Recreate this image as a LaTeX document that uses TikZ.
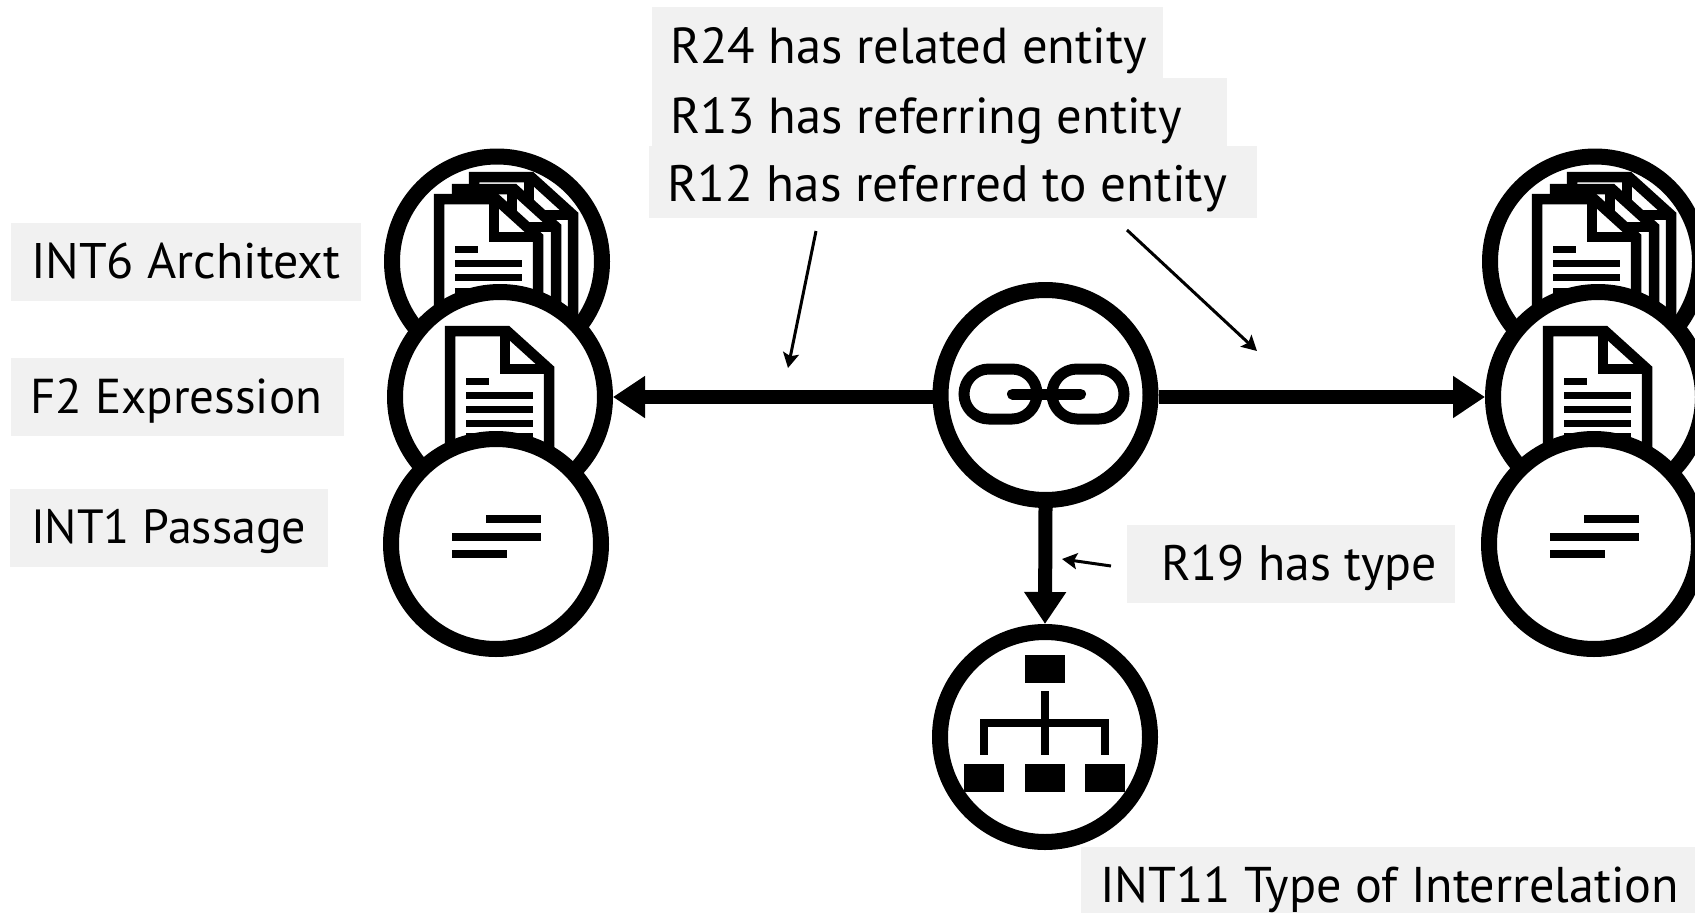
\documentclass[tikz,border=0pt]{standalone}
\usepackage{fontspec}
\setmainfont{PT Sans}
\usetikzlibrary{arrows.meta}
\definecolor{labgray}{HTML}{F1F1F1}
\tikzset{
  x=1pt,y=-1pt,
  ring/.style={circle,draw=black,fill=white,line width=16pt,minimum size=210pt,inner sep=0pt},
  labbox/.style={fill=labgray,draw=none,inner sep=0pt,outer sep=0pt,anchor=north west},
  labtext/.style={inner sep=0pt,outer sep=0pt,anchor=base west},
  bigarrow/.style={line width=14pt,-{Triangle[length=32pt,width=40pt]}},
  thinarrow/.style={line width=3pt,-{Stealth[length=15pt,width=16pt,inset=3pt]}},
  docicon/.pic={
    \draw[line width=10.5pt,fill=white,miter limit=10] (5,5) -- (62,5) -- (104,43) -- (104,144) -- (5,144) -- cycle;
    \draw[line width=10.5pt] (60,5) -- (60,43) -- (104,43);
    \fill (21,51.5) rectangle (44,58.5);
    \foreach \yy in {69,83.5,97.5,110.5}{\fill (21,\yy-3.5) rectangle (88,\yy+3.5);}
  },
  stackicon/.pic={
    \pic at (35,-22) {docicon};
    \pic at (18,-10) {docicon};
    \pic at (0,0) {docicon};
  },
  passage/.pic={
    \fill (34,-4) rectangle (89,4);
    \fill (0,14) rectangle (89,22);
    \fill (0,31) rectangle (55,39);
  }
}
% name, x1, y1, x2, y2, text x, baseline y, font size, text
\newcommand{\labelbox}[9]{%
  \node[labbox,minimum width=#4pt-#2pt,minimum height=#5pt-#3pt] (#1box) at (#2,#3) {};
  \node[labtext,font=\fontsize{#8}{#8}\selectfont] (#1text) at (#6,#7) {#9};
}
\begin{document}
\begin{tikzpicture}
\clip (0,0) rectangle (1695,913);
\fill[white] (0,0) rectangle (1695,913);

% labels
\labelbox{rb}{652}{7}{1163}{78}{670}{63}{50.6}{R24 has related entity}
\labelbox{rc}{652}{78}{1227}{146}{670}{133}{50.6}{R13 has referring entity}
\labelbox{rd}{649}{146}{1257}{218}{667}{201}{51.2}{R12 has referred to entity}
\labelbox{arch}{11}{223}{361}{301}{31}{278}{50}{INT6 Architext}
\labelbox{expr}{11}{358}{344}{436}{30}{413}{49}{F2 Expression}
\labelbox{pass}{10}{489}{328}{567}{31}{543}{48}{INT1 Passage}
\labelbox{rtype}{1127}{525}{1455}{603}{1161}{580}{49.8}{R19 has type}
\labelbox{itype}{1081}{847}{1695}{913}{1100}{902}{50.2}{INT11 Type of Interrelation}

% left column
\node[ring] (topL) at (497,261.5) {};
\pic at (434,194) {stackicon};
\node[ring] (midL) at (500,397) {};
\pic at (445,326) {docicon};
\node[ring] (lowL) at (496,544) {};
\pic at (452,519) {passage};

% right column
\node[ring] (topR) at (1595,261.5) {};
\pic at (1532,194) {stackicon};
\node[ring] (midR) at (1598,397) {};
\pic at (1543,326) {docicon};
\node[ring] (lowR) at (1594,544) {};
\pic at (1550,519) {passage};

% link circle
\node[ring] (link) at (1045.5,395) {};
\draw[line width=11pt,rounded corners=25pt] (964,369) rectangle (1037,419);
\draw[line width=11pt,rounded corners=25pt] (1052,369) rectangle (1124,419);
\draw[line width=11pt,line cap=round] (1012.5,394) -- (1080.5,394);

% hierarchy circle
\node[ring] (type) at (1045,737) {};
\fill (1025,655) rectangle (1065,683);
\fill (1041,691) rectangle (1049,755);
\fill (980,719) rectangle (1109,727);
\fill (980,719) rectangle (988,755);
\fill (1101,719) rectangle (1109,755);
\fill (964,764) rectangle (1004,792);
\fill (1025,764) rectangle (1065,792);
\fill (1085,764) rectangle (1125,792);

% connectors
\draw[bigarrow] (link.west |- midL.east) -- (midL.east);
\draw[bigarrow] (link.east |- midR.west) -- (midR.west);
\draw[bigarrow] (link.south) -- (type.north);

% thin pointers
\coordinate (p1a) at (816,231);
\coordinate (p1b) at (788,368);
\coordinate (p2a) at (1127,230);
\coordinate (p2b) at (1257,351);
\coordinate (p3a) at (1111,566);
\coordinate (p3b) at (1062,559);
\draw[thinarrow] (p1a) -- (p1b);
\draw[thinarrow] (p2a) -- (p2b);
\draw[thinarrow] (p3a) -- (p3b);
\end{tikzpicture}
\end{document}
